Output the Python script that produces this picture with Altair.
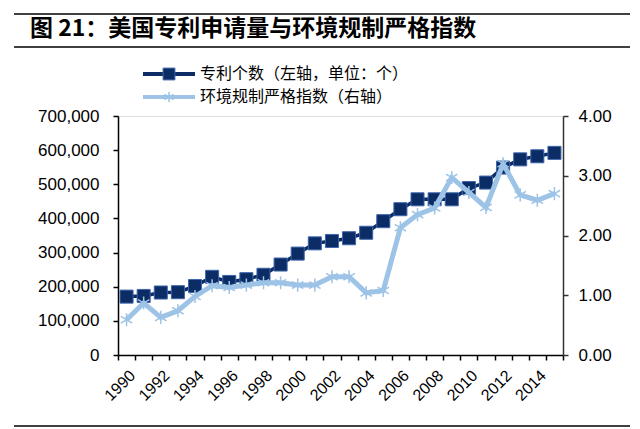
import pandas as pd
import altair as alt

# data
years = list(range(1990, 2016))
patents = [171000, 173000, 183000, 184000, 202000, 229000, 214000, 222000, 235000, 265000,
           297000, 327000, 334000, 342000, 358000, 392000, 427000, 456000, 456000, 456000,
           489000, 505000, 549000, 573000, 582000, 592000]
env_index = [0.59, 0.87, 0.63, 0.74, 0.98, 1.16, 1.13, 1.17, 1.21, 1.21,
             1.17, 1.17, 1.31, 1.31, 1.04, 1.08, 2.13, 2.35, 2.46, 2.97,
             2.72, 2.47, 3.20, 2.68, 2.59, 2.70]
series_names = ['专利个数（左轴，单位：个）', '环境规制严格指数（右轴）']
title_text = '图 21：美国专利申请量与环境规制严格指数'
frame_lines = [-102, -69, 310]  # top rule, rule under the title, bottom rule

DARK = '#0b2c64'
DARK_EDGE = '#3d66ad'
LIGHT = '#9dc3e6'
CJK = 'Noto Sans CJK SC'
LATIN = 'Liberation Sans'
STAR = 'M-1,-0.6L1,0.6M-1,0.6L1,-0.6M0,-1.15L0,1.15'

df = pd.DataFrame({'year': [str(y) for y in years], 'patents': patents, 'env': env_index})
one = pd.DataFrame({'a': [0]})

x = alt.X('year:O', title=None,
          scale=alt.Scale(type='band', paddingInner=0, paddingOuter=0),
          axis=alt.Axis(labelAngle=315, labelOverlap=False, tickBand='extent',
                        labelExpr="toNumber(datum.value) % 2 == 0 ? datum.label : ''",
                        labelFont=LATIN, labelFontSize=16, labelColor='black',
                        domainColor='black', domainWidth=1.5, tickColor='black',
                        tickWidth=1.5, tickSize=5, labelPadding=7))

y_left = alt.Y('patents:Q', title=None,
               scale=alt.Scale(domain=[0, 700000], nice=False),
               axis=alt.Axis(orient='left', values=list(range(0, 700001, 100000)), format=',.0f',
                             labelFont=LATIN, labelFontSize=17, labelColor='black',
                             domainColor='black', domainWidth=1.5, tickColor='black',
                             tickWidth=1.5, tickSize=5, labelPadding=14, grid=False))

y_right = alt.Y('env:Q', title=None,
                scale=alt.Scale(domain=[0, 4], nice=False),
                axis=alt.Axis(orient='right', values=[0, 1, 2, 3, 4], format='.2f',
                              labelFont=LATIN, labelFontSize=17, labelColor='black',
                              domainColor='#333333', domainWidth=1.5, tickColor='#333333',
                              tickWidth=1.5, tickSize=5, labelPadding=10, grid=False))

base = alt.Chart(df)
pat_line = base.mark_line(color=DARK, strokeWidth=3.5).encode(x=x, y=y_left)
pat_pts = base.mark_point(shape='square', filled=True, fill=DARK, stroke=DARK_EDGE,
                          strokeWidth=1, size=170, opacity=1).encode(x=x, y=y_left)
env_line = base.mark_line(color=LIGHT, strokeWidth=5).encode(x=x, y=y_right)
env_pts = base.mark_point(shape=STAR, filled=False, stroke=LIGHT, strokeWidth=1.5,
                          size=130, opacity=1).encode(x=x, y=y_right)

series = alt.layer(alt.layer(pat_line, pat_pts), alt.layer(env_line, env_pts)).resolve_scale(y='independent')

# frame: rules, title, legend
deco = alt.Chart(one)
rules = alt.Chart(pd.DataFrame({'ypix': frame_lines})).mark_rule(color='black', strokeWidth=1.5).encode(
    x=alt.value(-104), x2=alt.value(512),
    y=alt.Y('ypix:Q', scale=None, axis=None),
)
title = deco.mark_text(text=title_text, font=CJK, fontSize=23, fontWeight='bold', align='left',
                       baseline='middle', color='black').encode(x=alt.value(-88), y=alt.value(-87))

leg = [
    deco.mark_rule(color=DARK, strokeWidth=4).encode(x=alt.value(25), x2=alt.value(77), y=alt.value(-42)),
    deco.mark_point(shape='square', filled=True, fill=DARK, stroke=DARK_EDGE, strokeWidth=1,
                    size=140, opacity=1).encode(x=alt.value(51), y=alt.value(-42)),
    deco.mark_text(text=series_names[0], font=CJK, fontSize=16, align='left', baseline='middle',
                   color='black').encode(x=alt.value(82), y=alt.value(-42)),
    deco.mark_rule(color=LIGHT, strokeWidth=4).encode(x=alt.value(25), x2=alt.value(77), y=alt.value(-19)),
    deco.mark_point(shape=STAR, filled=False, stroke=LIGHT, strokeWidth=1.5, size=80,
                    opacity=1).encode(x=alt.value(51), y=alt.value(-19)),
    deco.mark_text(text=series_names[1], font=CJK, fontSize=16, align='left', baseline='middle',
                   color='black').encode(x=alt.value(82), y=alt.value(-19)),
]

chart = alt.layer(series, rules, title, *leg).properties(
    width=445,
    height=239,
    autosize=alt.AutoSizeParams(type='none'),
    padding={'left': 110, 'top': 108, 'right': 69, 'bottom': 80},
).configure_view(stroke=None).configure(background='white')

chart.save("out.html", embed_options={"renderer": "svg", "actions": False})
